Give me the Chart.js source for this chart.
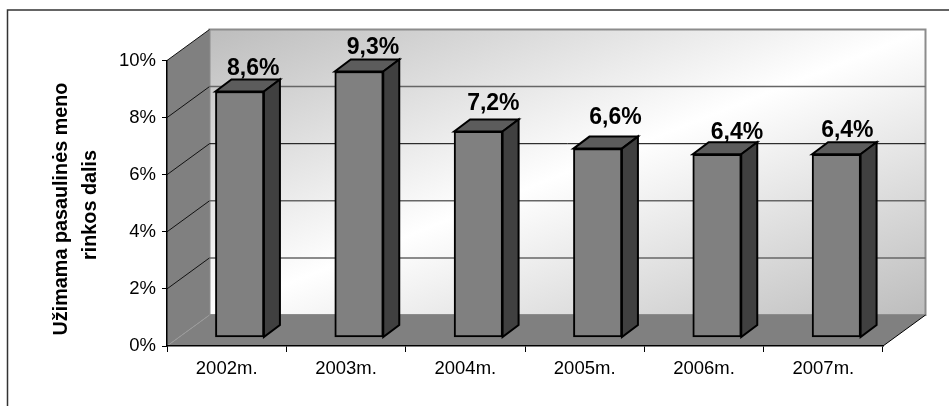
<!DOCTYPE html>
<html>
<head>
<meta charset="utf-8">
<script src="https://cdn.jsdelivr.net/npm/chart.js@4"></script>
<style>
  html, body { margin: 0; background: #fff; }
  canvas { display: block; }
</style>
</head>
<body>
<canvas id="shareChart" width="949" height="406"></canvas>
<script>
const years = ['2002m.', '2003m.', '2004m.', '2005m.', '2006m.', '2007m.'];
const marketShare = [8.6, 9.3, 7.2, 6.6, 6.4, 6.4];
const valueTicks = [0, 2, 4, 6, 8, 10];
const axisTitle = ['Užimama pasaulinės meno', 'rinkos dalis'];

// 3D look: the back wall sits up and to the right of the front axes
const WALL_DX = 42.5;
const WALL_DY = -31;
const BAR_DX = 16;
const BAR_DY = -12;
const FONT = '"Liberation Sans", Arial, sans-serif';

// hand placed value labels, relative to the top of each bar
const LABEL_NUDGE = [[13.6, -23], [14, -24], [15, -27.4], [17.8, -30.6], [20, -21.3], [11, -23.7]];

function poly(ctx, pts, fill, stroke, lineWidth) {
  ctx.beginPath();
  pts.forEach((p, i) => i ? ctx.lineTo(p[0], p[1]) : ctx.moveTo(p[0], p[1]));
  ctx.closePath();
  if (fill) {
    ctx.fillStyle = fill;
    ctx.fill();
  }
  if (stroke) {
    ctx.strokeStyle = stroke;
    ctx.lineWidth = lineWidth || 1;
    ctx.stroke();
  }
}

const wallsPlugin = {
  id: 'walls',
  beforeDraw(chart) {
    const { ctx, chartArea: a, scales } = chart;
    ctx.save();

    // outer frame, open on the right and bottom
    ctx.strokeStyle = '#333';
    ctx.lineWidth = 1.5;
    ctx.beginPath();
    ctx.moveTo(7.5, 406);
    ctx.lineTo(7.5, 10);
    ctx.lineTo(949, 10);
    ctx.stroke();

    const backL = a.left + WALL_DX, backR = a.right + WALL_DX;
    const backT = a.top + WALL_DY, backB = a.bottom + WALL_DY;
    const w = backR - backL, h = backB - backT;
    const len = Math.hypot(w, h);
    const cx = (backL + backR) / 2, cy = (backT + backB) / 2;
    const ux = h / len, uy = w / len;
    const reach = (w * ux + h * uy) / 2;
    const wallFill = ctx.createLinearGradient(cx - ux * reach, cy - uy * reach, cx + ux * reach, cy + uy * reach);
    wallFill.addColorStop(0, '#bdbdbd');
    wallFill.addColorStop(0.5, '#ffffff');
    wallFill.addColorStop(1, '#bdbdbd');
    poly(ctx, [[backL, backT], [backR, backT], [backR, backB], [backL, backB]], wallFill, '#8c8c8c', 2);

    // side wall and floor
    poly(ctx, [[a.left, a.bottom], [a.left, a.top], [backL, backT], [backL, backB]], '#808080');
    poly(ctx, [[a.left, a.bottom], [a.right, a.bottom], [backR, backB], [backL, backB]], '#808080');

    // gridlines run along the side wall and then across the back wall
    ctx.lineWidth = 1;
    valueTicks.forEach(v => {
      const y = scales.y.getPixelForValue(v);
      ctx.strokeStyle = v === 0 ? '#9a9a9a' : '#111';
      ctx.beginPath();
      ctx.moveTo(a.left, y);
      ctx.lineTo(backL, y + WALL_DY);
      ctx.stroke();
      if (v > 0 && v < 10) {
        ctx.strokeStyle = v === 6 ? '#000' : '#666';
        ctx.lineWidth = v === 6 ? 1 : 1.5;
        ctx.beginPath();
        ctx.moveTo(backL, y + WALL_DY);
        ctx.lineTo(backR, y + WALL_DY);
        ctx.stroke();
        ctx.lineWidth = 1;
      }
    });

    // right edge of the floor
    ctx.strokeStyle = '#000';
    ctx.beginPath();
    ctx.moveTo(a.right, a.bottom);
    ctx.lineTo(backR, backB);
    ctx.stroke();

    // two line axis title, each line centred on its own
    ctx.font = 'bold 19.8px ' + FONT;
    ctx.fillStyle = '#000';
    ctx.textAlign = 'center';
    ctx.textBaseline = 'middle';
    ctx.translate(62, 209);
    ctx.rotate(-Math.PI / 2);
    ctx.fillText(axisTitle[0], 0, 0);
    ctx.fillText(axisTitle[1], 4, 28.5);
    ctx.restore();
  }
};

const barDepthPlugin = {
  id: 'barDepth',
  beforeDatasetsDraw(chart) {
    const { ctx } = chart;
    ctx.save();
    ctx.lineJoin = 'miter';
    chart.getDatasetMeta(0).data.forEach(bar => {
      const l = bar.x - bar.width / 2, r = bar.x + bar.width / 2;
      const t = bar.y, b = bar.base;
      poly(ctx, [[l, t], [l + BAR_DX, t + BAR_DY], [r + BAR_DX, t + BAR_DY], [r, t]], '#5c5c5c', '#000', 2);
      poly(ctx, [[r, t], [r + BAR_DX, t + BAR_DY], [r + BAR_DX, b + BAR_DY], [r, b]], '#404040', '#000', 2);
    });
    ctx.restore();
  },
  afterDatasetsDraw(chart) {
    const { ctx } = chart;
    ctx.save();
    ctx.font = 'bold 23px ' + FONT;
    ctx.fillStyle = '#000';
    ctx.textAlign = 'center';
    ctx.textBaseline = 'middle';
    chart.getDatasetMeta(0).data.forEach((bar, i) => {
      const text = marketShare[i].toFixed(1).replace('.', ',') + '%';
      ctx.fillText(text, bar.x + LABEL_NUDGE[i][0], bar.y + LABEL_NUDGE[i][1]);
    });
    ctx.restore();
  }
};

new Chart(document.getElementById('shareChart'), {
  type: 'bar',
  data: {
    labels: years,
    datasets: [{
      data: marketShare.map((v, i) => ({ x: i, y: v })),
      xAxisID: 'xBar',
      yAxisID: 'yBar',
      backgroundColor: '#808080',
      borderColor: '#000',
      borderWidth: 2,
      borderSkipped: false,
      barThickness: 48.5
    }]
  },
  options: {
    responsive: false,
    animation: false,
    layout: { padding: { left: 0, right: 66, top: 60.5, bottom: 0 } },
    plugins: { legend: { display: false }, tooltip: { enabled: false } },
    scales: {
      x: {
        type: 'category',
        offset: true,
        grid: { offset: true, drawOnChartArea: false, color: '#000', tickLength: 6 },
        border: { color: '#000', width: 1.5 },
        ticks: { color: '#000', font: { family: FONT, size: 18.5 }, padding: 6, maxRotation: 0 },
        afterFit(scale) { scale.height = 60; }
      },
      y: {
        min: 0,
        max: 10,
        grid: { drawOnChartArea: false, color: '#000', tickLength: 5 },
        border: { color: '#000', width: 1.5 },
        ticks: { stepSize: 2, color: '#000', font: { family: FONT, size: 18.5 }, padding: 6, callback: v => v + '%' },
        afterFit(scale) { scale.width = 167; }
      },
      // bars stand on the floor, shifted in from the front axes
      xBar: { type: 'linear', display: false, offset: false, min: -0.609, max: 5.391 },
      yBar: { display: false, min: -0.315, max: 9.685 }
    }
  },
  plugins: [wallsPlugin, barDepthPlugin]
});
</script>
</body>
</html>
